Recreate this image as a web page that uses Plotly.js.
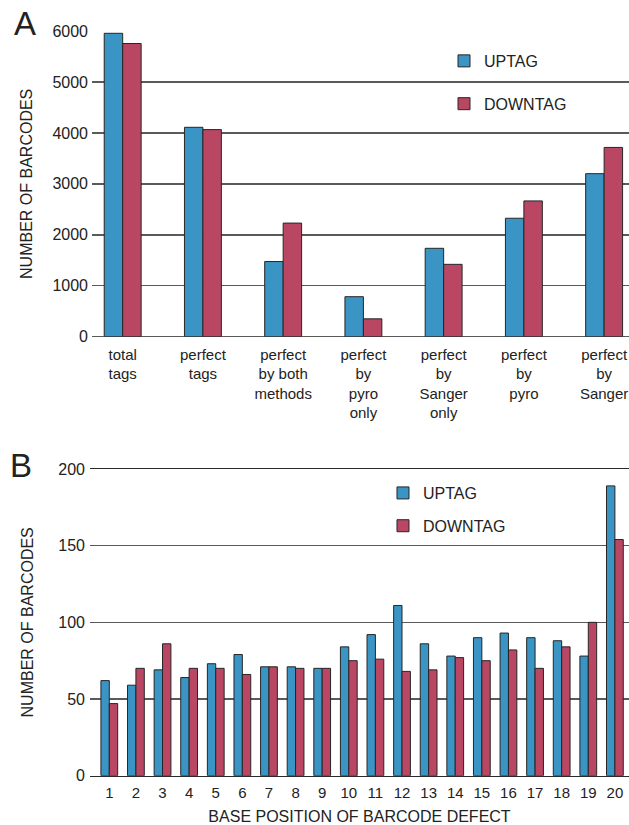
<!DOCTYPE html>
<html><head><meta charset="utf-8">
<script src="https://cdn.plot.ly/plotly-3.0.1.min.js"></script>
<style>html,body{margin:0;padding:0;background:#fff}</style>
</head><body><div id="chart" style="width:629px;height:825px"></div>
<script>
// Panel A data
const categoriesA = ["total<br>tags", "perfect<br>tags", "perfect<br>by both<br>methods", "perfect<br>by<br>pyro<br>only", "perfect<br>by<br>Sanger<br>only", "perfect<br>by<br>pyro", "perfect<br>by<br>Sanger"];
const uptagA = [5955, 4110, 1475, 785, 1735, 2325, 3200];
const downtagA = [5755, 4065, 2230, 350, 1420, 2665, 3715];
const tickValsA = [0, 1000, 2000, 3000, 4000, 5000, 6000];

// Panel B data
const positionsB = [1, 2, 3, 4, 5, 6, 7, 8, 9, 10, 11, 12, 13, 14, 15, 16, 17, 18, 19, 20];
const uptagB = [62, 59, 69, 64, 73, 79, 71, 71, 70, 84, 92, 111, 86, 78, 90, 93, 90, 88, 78, 189];
const downtagB = [47, 70, 86, 70, 70, 66, 71, 70, 70, 75, 76, 68, 69, 77, 75, 82, 70, 84, 100, 154];
const tickValsB = [0, 50, 100, 150, 200];

const BLUE = '#3A94C4', RED = '#B94763', EDGE = '#262626';
const FONT = 'Liberation Sans, Arial, Helvetica, sans-serif';
const TXT = '#222222';
const GRID = '#5a5a5a';

const wA = 0.23, wB = 0.315;
const traces = [
  {type:'bar', name:'UPTAG', x:categoriesA, y:uptagA, xaxis:'x', yaxis:'y', width:wA, offset:-wA,
   marker:{color:BLUE, line:{color:EDGE, width:1}}, legend:'legend', legendgroup:'a1'},
  {type:'bar', name:'DOWNTAG', x:categoriesA, y:downtagA, xaxis:'x', yaxis:'y', width:wA, offset:0,
   marker:{color:RED, line:{color:EDGE, width:1}}, legend:'legend', legendgroup:'a2'},
  {type:'bar', name:'UPTAG', x:positionsB, y:uptagB, xaxis:'x2', yaxis:'y2', width:wB, offset:-wB,
   marker:{color:BLUE, line:{color:EDGE, width:1}}, legend:'legend2', legendgroup:'b1'},
  {type:'bar', name:'DOWNTAG', x:positionsB, y:downtagB, xaxis:'x2', yaxis:'y2', width:wB, offset:0,
   marker:{color:RED, line:{color:EDGE, width:1}}, legend:'legend2', legendgroup:'b2'}
];

const layout = {
  width:629, height:825,
  margin:{l:0, r:0, t:0, b:0},
  paper_bgcolor:'#fff', plot_bgcolor:'#fff',
  font:{family:FONT, color:TXT, size:15},
  barmode:'overlay',
  showlegend:true,
  xaxis:{domain:[0.1463, 1], anchor:'y', type:'category', range:[-0.382, 6.31],
    showgrid:false, zeroline:false, showline:false, ticks:'', ticklabelstandoff:7,
    tickfont:{size:15, color:TXT}, fixedrange:true},
  yaxis:{domain:[0.5919, 0.9624], anchor:'x', range:[0, 6000], tickvals:tickValsA,
    showgrid:true, gridcolor:GRID, gridwidth:1.5, zeroline:true, zerolinecolor:GRID, zerolinewidth:1.5,
    showline:false, ticks:'', ticklabelstandoff:3, tickfont:{size:16, color:TXT},
    title:{text:'NUMBER OF BARCODES', font:{size:16, color:TXT}, standoff:15}},
  xaxis2:{domain:[0.1431, 1], anchor:'y2', range:[0.275, 20.53], tickvals:positionsB,
    showgrid:false, zeroline:false, showline:true, mirror:true, linecolor:'#2a2a2a', linewidth:1.5,
    ticks:'', ticklabelstandoff:3, tickfont:{size:15, color:TXT},
    title:{text:'BASE POSITION OF BARCODE DEFECT', font:{size:16, color:TXT}, standoff:17}},
  yaxis2:{domain:[0.0598, 0.4315], anchor:'x2', range:[0, 200], tickvals:tickValsB,
    showgrid:true, gridcolor:GRID, gridwidth:1.5, zeroline:false,
    showline:false, ticks:'', ticklabelstandoff:4, tickfont:{size:16, color:TXT},
    title:{text:'NUMBER OF BARCODES', font:{size:16, color:TXT}, standoff:20}},
  legend:{x:0.7059, y:0.9467, xanchor:'left', yanchor:'top', bgcolor:'rgba(0,0,0,0)',
    font:{size:16, color:TXT}, traceorder:'grouped', tracegroupgap:19},
  legend2:{x:0.6089, y:0.4230, xanchor:'left', yanchor:'top', bgcolor:'rgba(0,0,0,0)',
    font:{size:16, color:TXT}, traceorder:'grouped', tracegroupgap:9},
  annotations:[
    {text:'A', xref:'paper', yref:'paper', x:0.04, y:1-24/825, xanchor:'center', yanchor:'middle', showarrow:false, font:{size:33, color:TXT}},
    {text:'B', xref:'paper', yref:'paper', x:0.034, y:1-465/825, xanchor:'center', yanchor:'middle', showarrow:false, font:{size:33, color:TXT}}
  ]
};

Plotly.newPlot('chart', traces, layout, {displayModeBar:false, staticPlot:true});
</script></body></html>
